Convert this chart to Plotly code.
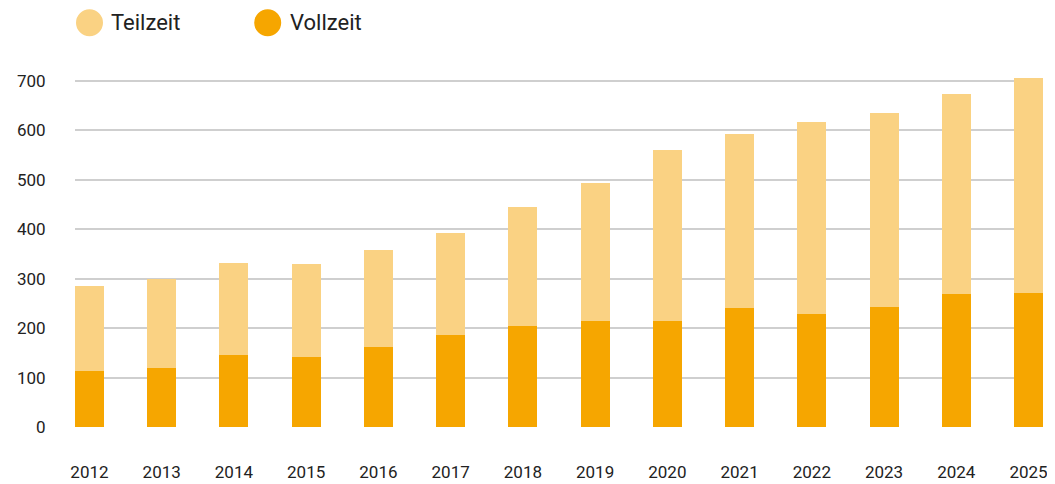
import plotly.graph_objects as go

years = ["2012", "2013", "2014", "2015", "2016", "2017", "2018", "2019",
         "2020", "2021", "2022", "2023", "2024", "2025"]
total = [286, 299, 332, 330, 357, 392, 445, 493, 560, 592, 616, 635, 674, 706]
vollzeit = [114, 120, 146, 142, 162, 186, 204, 214, 214, 241, 229, 243, 269, 271]
teilzeit = [t - v for t, v in zip(total, vollzeit)]
y_ticks = [0, 100, 200, 300, 400, 500, 600, 700]

C_TEIL = "#FAD283"
C_VOLL = "#F6A600"
TXT = "#222222"
FONT = "Roboto"

fig = go.Figure()
fig.add_trace(go.Bar(x=years, y=vollzeit, name="Vollzeit", marker=dict(color=C_VOLL, line=dict(width=0)),
                     showlegend=False))
fig.add_trace(go.Bar(x=years, y=teilzeit, name="Teilzeit", marker=dict(color=C_TEIL, line=dict(width=0)),
                     showlegend=False))

# the page body has an 8px default margin; size the figure to fill the window exactly
OFF = 8
W, H = 1055 - OFF, 484 - OFF
ml, mr, mt, mb = 75 - OFF, 12, 71 - OFF, 57
pw, ph = W - ml - mr, H - mt - mb


def px2paper(x, y):
    x -= OFF
    y -= OFF
    return (x - ml) / pw, (H - mb - y) / ph


legend_items = [("Teilzeit", C_TEIL, 89.5, 109), ("Vollzeit", C_VOLL, 267.7, 288)]
for label, col, cx, tx in legend_items:
    xa, ya = px2paper(cx, 22.7)
    fig.add_shape(type="circle", xref="paper", yref="paper", xsizemode="pixel", ysizemode="pixel",
                  xanchor=xa, yanchor=ya, x0=-13.5, x1=13.5, y0=-13.5, y1=13.5,
                  fillcolor=col, line=dict(width=0))
    txa, tya = px2paper(tx, 23)
    fig.add_annotation(text=label, xref="paper", yref="paper", x=txa, y=tya, xanchor="left",
                       yanchor="middle", showarrow=False, font=dict(family=FONT, size=22, color=TXT))

fig.update_layout(
    template="none",
    width=W, height=H, barmode="stack", bargap=0.6,
    margin=dict(l=ml, r=mr, t=mt, b=mb, pad=0, autoexpand=False),
    paper_bgcolor="white", plot_bgcolor="white",
    font=dict(family=FONT, size=17, color=TXT),
    showlegend=False,
    xaxis=dict(type="category", range=[-0.2, 13.2], showgrid=False, showline=False, zeroline=False,
               automargin=False,
               ticks="outside", ticklen=0, tickcolor="rgba(0,0,0,0)", ticklabelstandoff=30,
               tickfont=dict(family=FONT, size=17, color=TXT)),
    yaxis=dict(range=[0, 720], tickvals=y_ticks, showgrid=True, gridcolor="#CFCFCF", gridwidth=1.5,
               zeroline=True, zerolinecolor="rgba(0,0,0,0)", showline=False, automargin=False,
               ticks="outside", ticklen=0, tickcolor="rgba(0,0,0,0)", ticklabelstandoff=25,
               tickfont=dict(family=FONT, size=17, color=TXT)),
)

fig.write_html("out.html")
